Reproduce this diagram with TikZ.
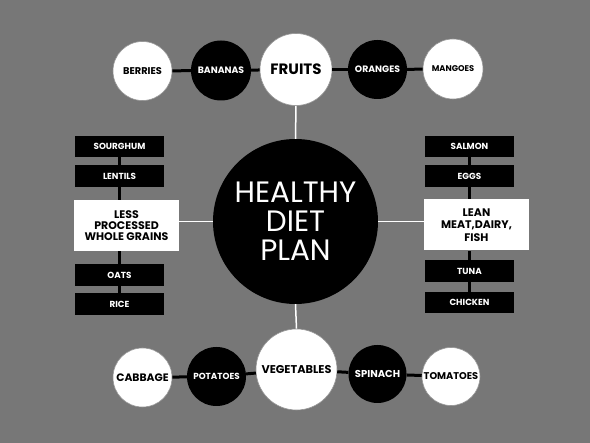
\documentclass[tikz,border=0pt]{standalone}
\usepackage{fontspec}
\setmainfont{Poppins}
\definecolor{bg}{RGB}{119,119,119}
\definecolor{edge}{RGB}{150,150,150}
\begin{document}
\begin{tikzpicture}[x=1pt,y=-1pt,
  wcirc/.style={circle,fill=white,draw=edge,line width=0.6pt,inner sep=0pt,text=black,font=\bfseries},
  bcirc/.style={circle,fill=black,inner sep=0pt,text=white,font=\bfseries},
  bbox/.style={rectangle,fill=black,inner sep=0pt,minimum width=89pt,minimum height=21.5pt,text=white,font=\bfseries\fontsize{8.8}{9}\selectfont},
  wbox/.style={rectangle,fill=white,inner sep=0pt,minimum width=105pt,minimum height=51pt,text=black,align=center,font=\bfseries\fontsize{11}{11}\selectfont},
  blink/.style={draw=black,line width=3pt},
  wlink/.style={draw=white,line width=1.5pt}]
\fill[bg] (0,0) rectangle (590,443);
\useasboundingbox (0,0) rectangle (590,443);
% centre
\node[circle,fill=black,inner sep=0pt,minimum size=165pt,text=white,align=center,font=\fontsize{29.5}{29}\selectfont] (hub) at (295.5,221.5) {HEALTHY\\DIET\\PLAN};
% fruits row
\node[wcirc,minimum size=72pt,font=\bfseries\fontsize{15}{16}\selectfont] (fruits) at (296,69.5) {FRUITS};
\node[wcirc,minimum size=59pt,font=\bfseries\fontsize{9.8}{10}\selectfont] (berries) at (142.5,71) {BERRIES};
\node[bcirc,minimum size=60pt,font=\bfseries\fontsize{9.3}{10}\selectfont] (bananas) at (221,70.5) {BANANAS};
\node[bcirc,minimum size=59pt,font=\bfseries\fontsize{9.3}{10}\selectfont] (oranges) at (377.5,69.5) {ORANGES};
\node[wcirc,minimum size=60pt,font=\bfseries\fontsize{8.3}{9}\selectfont] (mangoes) at (453,69) {MANGOES};
% vegetables row
\node[wcirc,minimum size=81pt,font=\bfseries\fontsize{11.3}{12}\selectfont] (veg) at (296.5,369.5) {VEGETABLES};
\node[wcirc,minimum size=59pt,font=\bfseries\fontsize{10.8}{11}\selectfont] (cabbage) at (142.5,377.5) {CABBAGE};
\node[bcirc,minimum size=59pt,font=\bfseries\fontsize{8.8}{9}\selectfont] (potatoes) at (216.5,376.5) {POTATOES};
\node[bcirc,minimum size=58pt,font=\bfseries\fontsize{10}{10}\selectfont] (spinach) at (377.5,374) {SPINACH};
\node[wcirc,minimum size=58pt,font=\bfseries\fontsize{9.8}{10}\selectfont] (tomatoes) at (451,376.5) {TOMATOES};
% left column
\node[bbox] (sourghum) at (119.5,146.5) {SOURGHUM};
\node[bbox] (lentils) at (119.5,176) {LENTILS};
\node[wbox] (grains) at (126.5,225.5) {LESS\\PROCESSED\\WHOLE GRAINS};
\node[bbox] (oats) at (119.5,275) {OATS};
\node[bbox] (rice) at (119.5,304) {RICE};
% right column
\node[bbox] (salmon) at (469.5,146.5) {SALMON};
\node[bbox] (eggs) at (469.5,176) {EGGS};
\node[wbox,font=\bfseries\fontsize{11}{12.5}\selectfont] (lean) at (476.5,225) {LEAN\\MEAT,DAIRY,\\FISH};
\node[bbox] (tuna) at (469.5,271) {TUNA};
\node[bbox] (chicken) at (469.5,302.5) {CHICKEN};
% connectors
\path[blink] (berries) -- (bananas);
\path[blink] (bananas) -- (fruits);
\path[blink] (fruits) -- (oranges);
\path[blink] (oranges) -- (mangoes);
\path[blink] (cabbage) -- (potatoes);
\path[blink] (potatoes) -- (veg);
\path[blink] (veg) -- (spinach);
\path[blink] (spinach) -- (tomatoes);
\path[blink] (sourghum) -- (lentils);
\path[blink] (lentils.south) -- (lentils.south |- grains.north);
\path[blink] (oats.north) -- (oats.north |- grains.south);
\path[blink] (oats) -- (rice);
\path[blink] (salmon) -- (eggs);
\path[blink] (eggs.south) -- (eggs.south |- lean.north);
\path[blink] (tuna.north) -- (tuna.north |- lean.south);
\path[blink] (tuna) -- (chicken);
\path[wlink] (fruits.south) -- (hub.north);
\path[wlink] (hub.south) -- (veg.north);
\path[wlink] (hub.west) -- (hub.west -| grains.east);
\path[wlink] (hub.east) -- (hub.east -| lean.west);
\end{tikzpicture}
\end{document}
